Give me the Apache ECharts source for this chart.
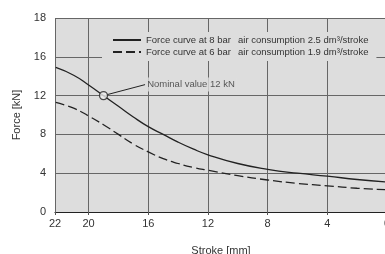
<!DOCTYPE html>
<html>
<head>
<meta charset="utf-8">
<script src="https://cdn.jsdelivr.net/npm/echarts@6/dist/echarts.min.js"></script>
<style>
  html, body { margin: 0; padding: 0; background: #fff; }
  #chart { width: 385px; height: 254px; }
</style>
</head>
<body>
<div id="chart"></div>
<script>
// stroke in mm (axis runs 22 -> 0)
const stroke = [22.2, 21, 20, 19, 18, 17, 16, 15, 14, 13, 12, 10, 8, 6, 4, 2, 0]
// force in kN
const force8bar = [14.9, 14.1, 13.1, 12.0, 10.9, 9.8, 8.8, 8.0, 7.2, 6.5, 5.9, 5.0, 4.4, 4.0, 3.7, 3.35, 3.1]
const force6bar = [11.3, 10.7, 9.9, 9.0, 8.0, 7.0, 6.2, 5.5, 5.0, 4.6, 4.3, 3.75, 3.3, 2.95, 2.7, 2.45, 2.3]
const seriesNames = ['Force curve at 8 bar', 'Force curve at 6 bar']
const airText = ['air consumption 2.5 dm³/stroke', 'air consumption 1.9 dm³/stroke']
const nominal = [19, 12]
const yTickLabels = { 0: '0', 4: '4', 8: '8', 12: '12', 16: '16', 20: '18' }

const font = "'Liberation Sans', Arial, sans-serif"
const ink = '#222'
const plotBg = '#dddddd'

function pairs(ys) {
  return stroke.map((s, i) => [s, ys[i]])
}

const myChart = echarts.init(document.getElementById('chart'))

const option = {
  animation: false,
  textStyle: { fontFamily: font, color: '#333' },
  grid: {
    left: 55,
    right: -2,
    top: 18,
    bottom: 42,
    containLabel: false,
    outerBoundsMode: 'none',
    show: true,
    backgroundColor: plotBg,
    borderWidth: 0
  },
  legend: {
    orient: 'vertical',
    left: 102,
    top: 32,
    padding: [3, 8, 4, 10],
    itemGap: 2,
    itemWidth: 28,
    itemHeight: 10,
    backgroundColor: plotBg,
    // hide the round marker, keep only the line sample
    itemStyle: { color: 'rgba(0,0,0,0)', borderColor: 'rgba(0,0,0,0)', borderWidth: 0, opacity: 0 },
    data: seriesNames,
    formatter: (name) => `{n|${name}}{a|${airText[seriesNames.indexOf(name)]}}`,
    textStyle: {
      fontFamily: font,
      fontSize: 9.5,
      color: '#333',
      rich: {
        n: { width: 92, fontSize: 9.5, lineHeight: 10, fontFamily: font, color: '#333' },
        a: { fontSize: 9.5, lineHeight: 10, fontFamily: font, color: '#333' }
      }
    }
  },
  xAxis: {
    type: 'value',
    inverse: true,
    min: 0,
    max: 22.25,
    interval: 4,
    name: 'Stroke [mm]',
    nameLocation: 'middle',
    nameGap: 33,
    nameTextStyle: { fontSize: 11, fontFamily: font, color: '#333' },
    axisLine: { show: true, lineStyle: { color: ink, width: 1.2 } },
    axisTick: { show: true, length: 3, lineStyle: { color: '#555' } },
    axisLabel: {
      fontSize: 11,
      margin: 6,
      color: '#333',
      fontFamily: font,
      formatter: (v) => (v > 21 ? '22' : String(v))
    },
    splitLine: { show: true, lineStyle: { color: '#666', width: 1 } }
  },
  yAxis: {
    type: 'value',
    min: 0,
    max: 20,
    interval: 4,
    name: 'Force [kN]',
    nameLocation: 'middle',
    nameGap: 32,
    nameTextStyle: { fontSize: 11, fontFamily: font, color: '#333' },
    axisLine: { show: true, lineStyle: { color: ink, width: 1.2 } },
    axisTick: { show: false },
    axisLabel: {
      fontSize: 11,
      margin: 9,
      color: '#333',
      fontFamily: font,
      formatter: (v) => yTickLabels[v] ?? ''
    },
    splitLine: { show: true, lineStyle: { color: '#666', width: 1 } }
  },
  series: [
    {
      name: seriesNames[0],
      type: 'line',
      smooth: true,
      symbol: 'none',
      data: pairs(force8bar),
      lineStyle: { color: ink, width: 1.3 },
      itemStyle: { color: ink },
      z: 3
    },
    {
      name: seriesNames[1],
      type: 'line',
      smooth: true,
      symbol: 'none',
      data: pairs(force6bar),
      lineStyle: { color: ink, width: 1.3, type: [9, 4] },
      itemStyle: { color: ink },
      z: 3
    },
    {
      name: 'nominal',
      type: 'scatter',
      symbol: 'circle',
      symbolSize: 8,
      data: [nominal],
      itemStyle: { color: '#eeeeee', borderColor: ink, borderWidth: 1.3 },
      label: {
        show: true,
        position: 'right',
        formatter: 'Nominal value 12 kN',
        fontSize: 9.5,
        fontFamily: font,
        color: '#333',
        backgroundColor: plotBg,
        padding: [2, 2]
      },
      labelLayout: { dx: 32, dy: -11 },
      labelLine: { show: true, lineStyle: { color: ink, width: 1 } },
      z: 5
    }
  ]
}

myChart.setOption(option, true)
</script>
</body>
</html>
